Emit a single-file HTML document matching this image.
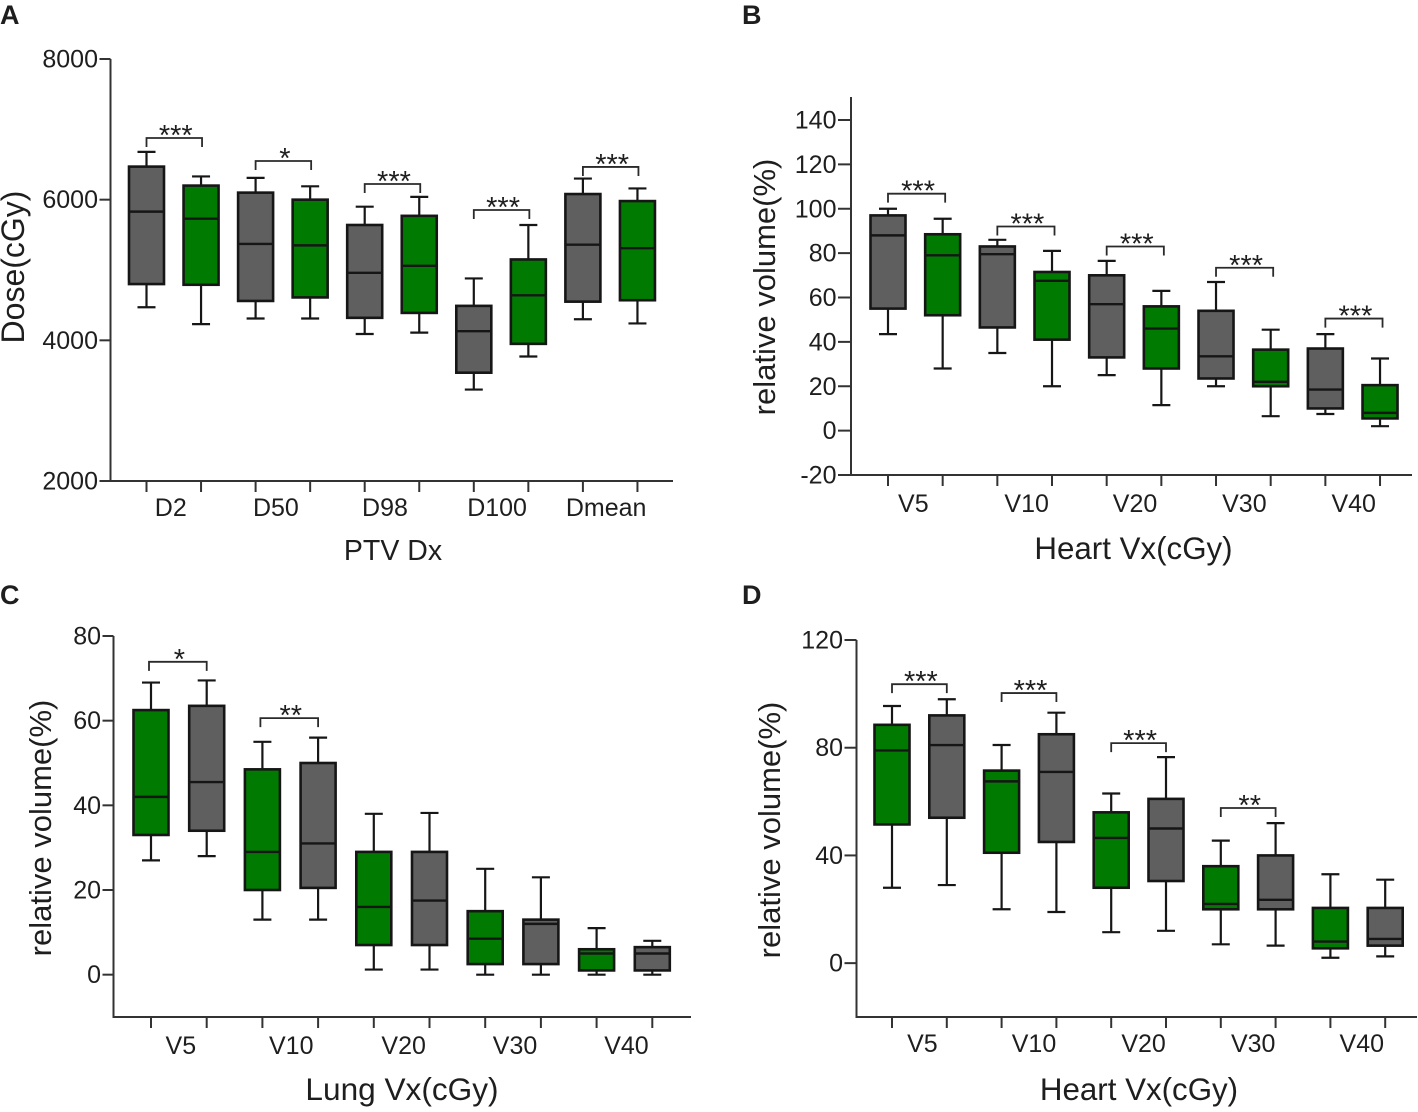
<!DOCTYPE html>
<html lang="en">
<head>
<meta charset="utf-8">
<title>Dose and relative volume box plots</title>
<style>
html,body{margin:0;padding:0;background:#fff;width:1418px;height:1112px;overflow:hidden}
svg{display:block}
text{font-family:"Liberation Sans",sans-serif;fill:#1e1e1e}
</style>
</head>
<body>
<svg id="figure" width="1418" height="1112" viewBox="0 0 1418 1112" xmlns="http://www.w3.org/2000/svg"></svg>
<script>
// Panel A data: each entry is [whisker low, Q1, median, Q3, whisker high]
const aCategories = ['D2', 'D50', 'D98', 'D100', 'Dmean'];
const aYTicks = [2000, 4000, 6000, 8000];
const aGray = [[4470,4800,5830,6470,6680],[4310,4560,5370,6100,6310],[4090,4320,4960,5640,5900],[3300,3540,4130,4490,4880],[4300,4550,5360,6080,6300]];
const aGreen = [[4230,4790,5730,6200,6330],[4310,4610,5350,6000,6190],[4110,4390,5060,5770,6040],[3770,3950,4640,5150,5640],[4240,4570,5310,5980,6160]];
const aBracketLevels = [6877, 6550, 6223, 5853, 6465];
const aBracketStars = ['***', '*', '***', '***', '***'];

// Panel B data
const bCategories = ['V5', 'V10', 'V20', 'V30', 'V40'];
const bYTicks = [-20, 0, 20, 40, 60, 80, 100, 120, 140];
const bGray = [[43.5,55,88,97,100],[35,46.5,79.5,83,86],[25,33,57,70,76.5],[20,23.5,33.5,54,67],[7.5,10,18.5,37,43.5]];
const bGreen = [[28,52,79,88.5,95.5],[20,41,67.5,71.5,81],[11.5,28,46,56,63],[6.5,20,22,36.5,45.5],[2,5.5,8,20.5,32.5]];
const bBracketLevels = [106.8, 92, 83, 73.4, 50.5];
const bBracketStars = ['***', '***', '***', '***', '***'];

// Panel C data
const cCategories = ['V5', 'V10', 'V20', 'V30', 'V40'];
const cYTicks = [0, 20, 40, 60, 80];
const cGreen = [[27,33,42,62.5,69],[13,20,29,48.5,55],[1.2,7,16,29,38],[0,2.5,8.5,15,25],[0,1,5,6,11]];
const cGray = [[28,34,45.5,63.5,69.5],[13,20.5,31,50,56],[1.2,7,17.5,29,38.2],[0,2.5,12,13,23],[0,1,5,6.5,8]];
const cBracketLevels = [73.9, 60.6];
const cBracketStars = ['*', '**'];

// Panel D data
const dCategories = ['V5', 'V10', 'V20', 'V30', 'V40'];
const dYTicks = [0, 40, 80, 120];
const dGreen = [[28,51.5,79,88.5,95.5],[20,41,67.5,71.5,81],[11.5,28,46.5,56,63],[7,20,22,36,45.5],[2,5.5,8,20.5,33]];
const dGray = [[29,54,81,92,98],[19,45,71,85,93],[12,30.5,50,61,76.5],[6.5,20,23.5,40,52],[2.5,6.5,9,20.5,31]];
const dBracketLevels = [103.6, 100.3, 81.7, 57.6];
const dBracketStars = ['***', '***', '***', '**'];

const GRAY = '#5f5f5f';
const GREEN = '#007a00';
const INK = '#161616';
const NS = 'http://www.w3.org/2000/svg';
const figure = document.getElementById('figure');

function make(parent, tag, props, content) {
  const el = document.createElementNS(NS, tag);
  for (const k in props) el.setAttribute(k, props[k]);
  if (content !== undefined) el.textContent = content;
  parent.appendChild(el);
  return el;
}
function seg(parent, x1, y1, x2, y2, color, w) {
  return make(parent, 'line', {x1: x1, y1: y1, x2: x2, y2: y2, stroke: color, 'stroke-width': w});
}

function drawPanel(p) {
  const g = make(figure, 'g', {});
  
  

  const y = v => p.yPx[0] + (v - p.yDomain[0]) * (p.yPx[1] - p.yPx[0]) / (p.yDomain[1] - p.yDomain[0]);
  const x = (cat, s) => p.x0 + p.step * (2 * cat + s);

  const letter = make(g, 'text', {x: p.letter[0], y: p.letter[1], 'font-size': 27, 'font-weight': 'bold', fill: '#000'}, p.id);
  
  

  const yAxis = seg(g, p.axisX, p.axisTop, p.axisX, p.yPx[0] + 1, '#333', 2);
  
  
  const xAxis = seg(g, p.axisX - 1, p.yPx[0], p.axisEnd, p.yPx[0], '#333', 2);
  
  

  p.yTicks.forEach(t => {
    const mark = seg(g, p.axisX - p.yTickLen, y(t), p.axisX, y(t), '#333', 2);
    
    
    const lab = make(g, 'text', {x: p.axisX - p.yTickLen - 1.5, y: y(t) + 8.5, 'font-size': 25, 'text-anchor': 'end'}, t);
    
    
  });

  p.categories.forEach((c, i) => {
    [0, 1].forEach(s => {
      const mark = seg(g, x(i, s), p.yPx[0], x(i, s), p.yPx[0] + 11, '#333', 2);
      
      
    });
    const lab = make(g, 'text', {x: x(i, 0.5) + p.labelNudge[i], y: p.xLabelY, 'font-size': 25, 'text-anchor': 'middle'}, c);
    
    
  });

  const xTitle = make(g, 'text', {x: p.xTitle[0], y: p.xTitle[1], 'font-size': p.xTitle[3], 'text-anchor': 'middle'}, p.xTitle[2]);
  
  
  const yTitle = make(g, 'text', {transform: 'translate(' + p.yTitle[0] + ',' + p.yTitle[1] + ') rotate(-90)', 'font-size': p.yTitle[3], 'text-anchor': 'middle'}, p.yTitle[2]);
  
  

  p.series.forEach((ser, s) => {
    ser.values.forEach((row, i) => {
      const cx = x(i, s);
      const box = make(g, 'g', {});
      
      
      seg(box, cx, y(row[0]), cx, y(row[1]), INK, 2.2);
      seg(box, cx, y(row[3]), cx, y(row[4]), INK, 2.2);
      seg(box, cx - 9, y(row[0]), cx + 9, y(row[0]), INK, 2.2);
      seg(box, cx - 9, y(row[4]), cx + 9, y(row[4]), INK, 2.2);
      make(box, 'rect', {x: cx - 17.5, y: y(row[3]), width: 35, height: y(row[1]) - y(row[3]), fill: ser.color, stroke: INK, 'stroke-width': 2.6});
      seg(box, cx - 17.5, y(row[2]), cx + 17.5, y(row[2]), INK, 2.4);
    });
  });

  p.bracketLevels.forEach((lvl, i) => {
    const top = y(lvl);
    const xl = x(i, 0) + p.bracketPad[0];
    const xr = x(i, 1) + p.bracketPad[1];
    const br = make(g, 'path', {d: 'M' + xl + ' ' + (top + 9) + 'V' + top + 'H' + xr + 'V' + (top + 9), fill: 'none', stroke: '#2a2a2a', 'stroke-width': 1.8});
    
    
    const st = make(g, 'text', {x: (xl + xr) / 2 + 1.5, y: top + 7, 'font-size': 29, 'text-anchor': 'middle', fill: '#111'}, p.bracketStars[i]);
    
    
  });
}

drawPanel({
  id: 'A', letter: [0, 24], categories: aCategories, yTicks: aYTicks,
  series: [{name: 'gray', color: GRAY, values: aGray}, {name: 'green', color: GREEN, values: aGreen}],
  bracketLevels: aBracketLevels, bracketStars: aBracketStars, bracketPad: [0, 1],
  yDomain: [2000, 8000], yPx: [481, 59], axisX: 110.5, axisTop: 59, axisEnd: 673, yTickLen: 11,
  x0: 146.5, step: 54.55, labelNudge: [-3, -7, -7, -4, -4], xLabelY: 516,
  xTitle: [393, 560, 'PTV Dx', 28.5], yTitle: [24, 267, 'Dose(cGy)', 32]
});
drawPanel({
  id: 'B', letter: [742, 24], categories: bCategories, yTicks: bYTicks,
  series: [{name: 'gray', color: GRAY, values: bGray}, {name: 'green', color: GREEN, values: bGreen}],
  bracketLevels: bBracketLevels, bracketStars: bBracketStars, bracketPad: [0, 2.5],
  yDomain: [-20, 140], yPx: [475, 120], axisX: 851, axisTop: 97, axisEnd: 1412, yTickLen: 13,
  x0: 888, step: 54.67, labelNudge: [-2, 2, 1, 1, 1], xLabelY: 512,
  xTitle: [1133.5, 559, 'Heart Vx(cGy)', 31.3], yTitle: [775, 287, 'relative volume(%)', 31]
});
drawPanel({
  id: 'C', letter: [0, 604], categories: cCategories, yTicks: cYTicks,
  series: [{name: 'green', color: GREEN, values: cGreen}, {name: 'gray', color: GRAY, values: cGray}],
  bracketLevels: cBracketLevels, bracketStars: cBracketStars, bracketPad: [-2, 0],
  yDomain: [-10, 80], yPx: [1017, 636], axisX: 113.5, axisTop: 636, axisEnd: 691, yTickLen: 11,
  x0: 151, step: 55.7, labelNudge: [2, 1, 2, 2, 2], xLabelY: 1054,
  xTitle: [402, 1100, 'Lung Vx(cGy)', 31.6], yTitle: [51, 828, 'relative volume(%)', 31]
});
drawPanel({
  id: 'D', letter: [742, 604], categories: dCategories, yTicks: dYTicks,
  series: [{name: 'green', color: GREEN, values: dGreen}, {name: 'gray', color: GRAY, values: dGray}],
  bracketLevels: dBracketLevels, bracketStars: dBracketStars, bracketPad: [0, 0],
  yDomain: [-20, 120], yPx: [1017, 640], axisX: 856.5, axisTop: 640, axisEnd: 1417, yTickLen: 12,
  x0: 892, step: 54.8, labelNudge: [3, 5, 5, 5, 4], xLabelY: 1052,
  xTitle: [1139, 1100, 'Heart Vx(cGy)', 31.3], yTitle: [780, 830, 'relative volume(%)', 31]
});
</script>
</body>
</html>
